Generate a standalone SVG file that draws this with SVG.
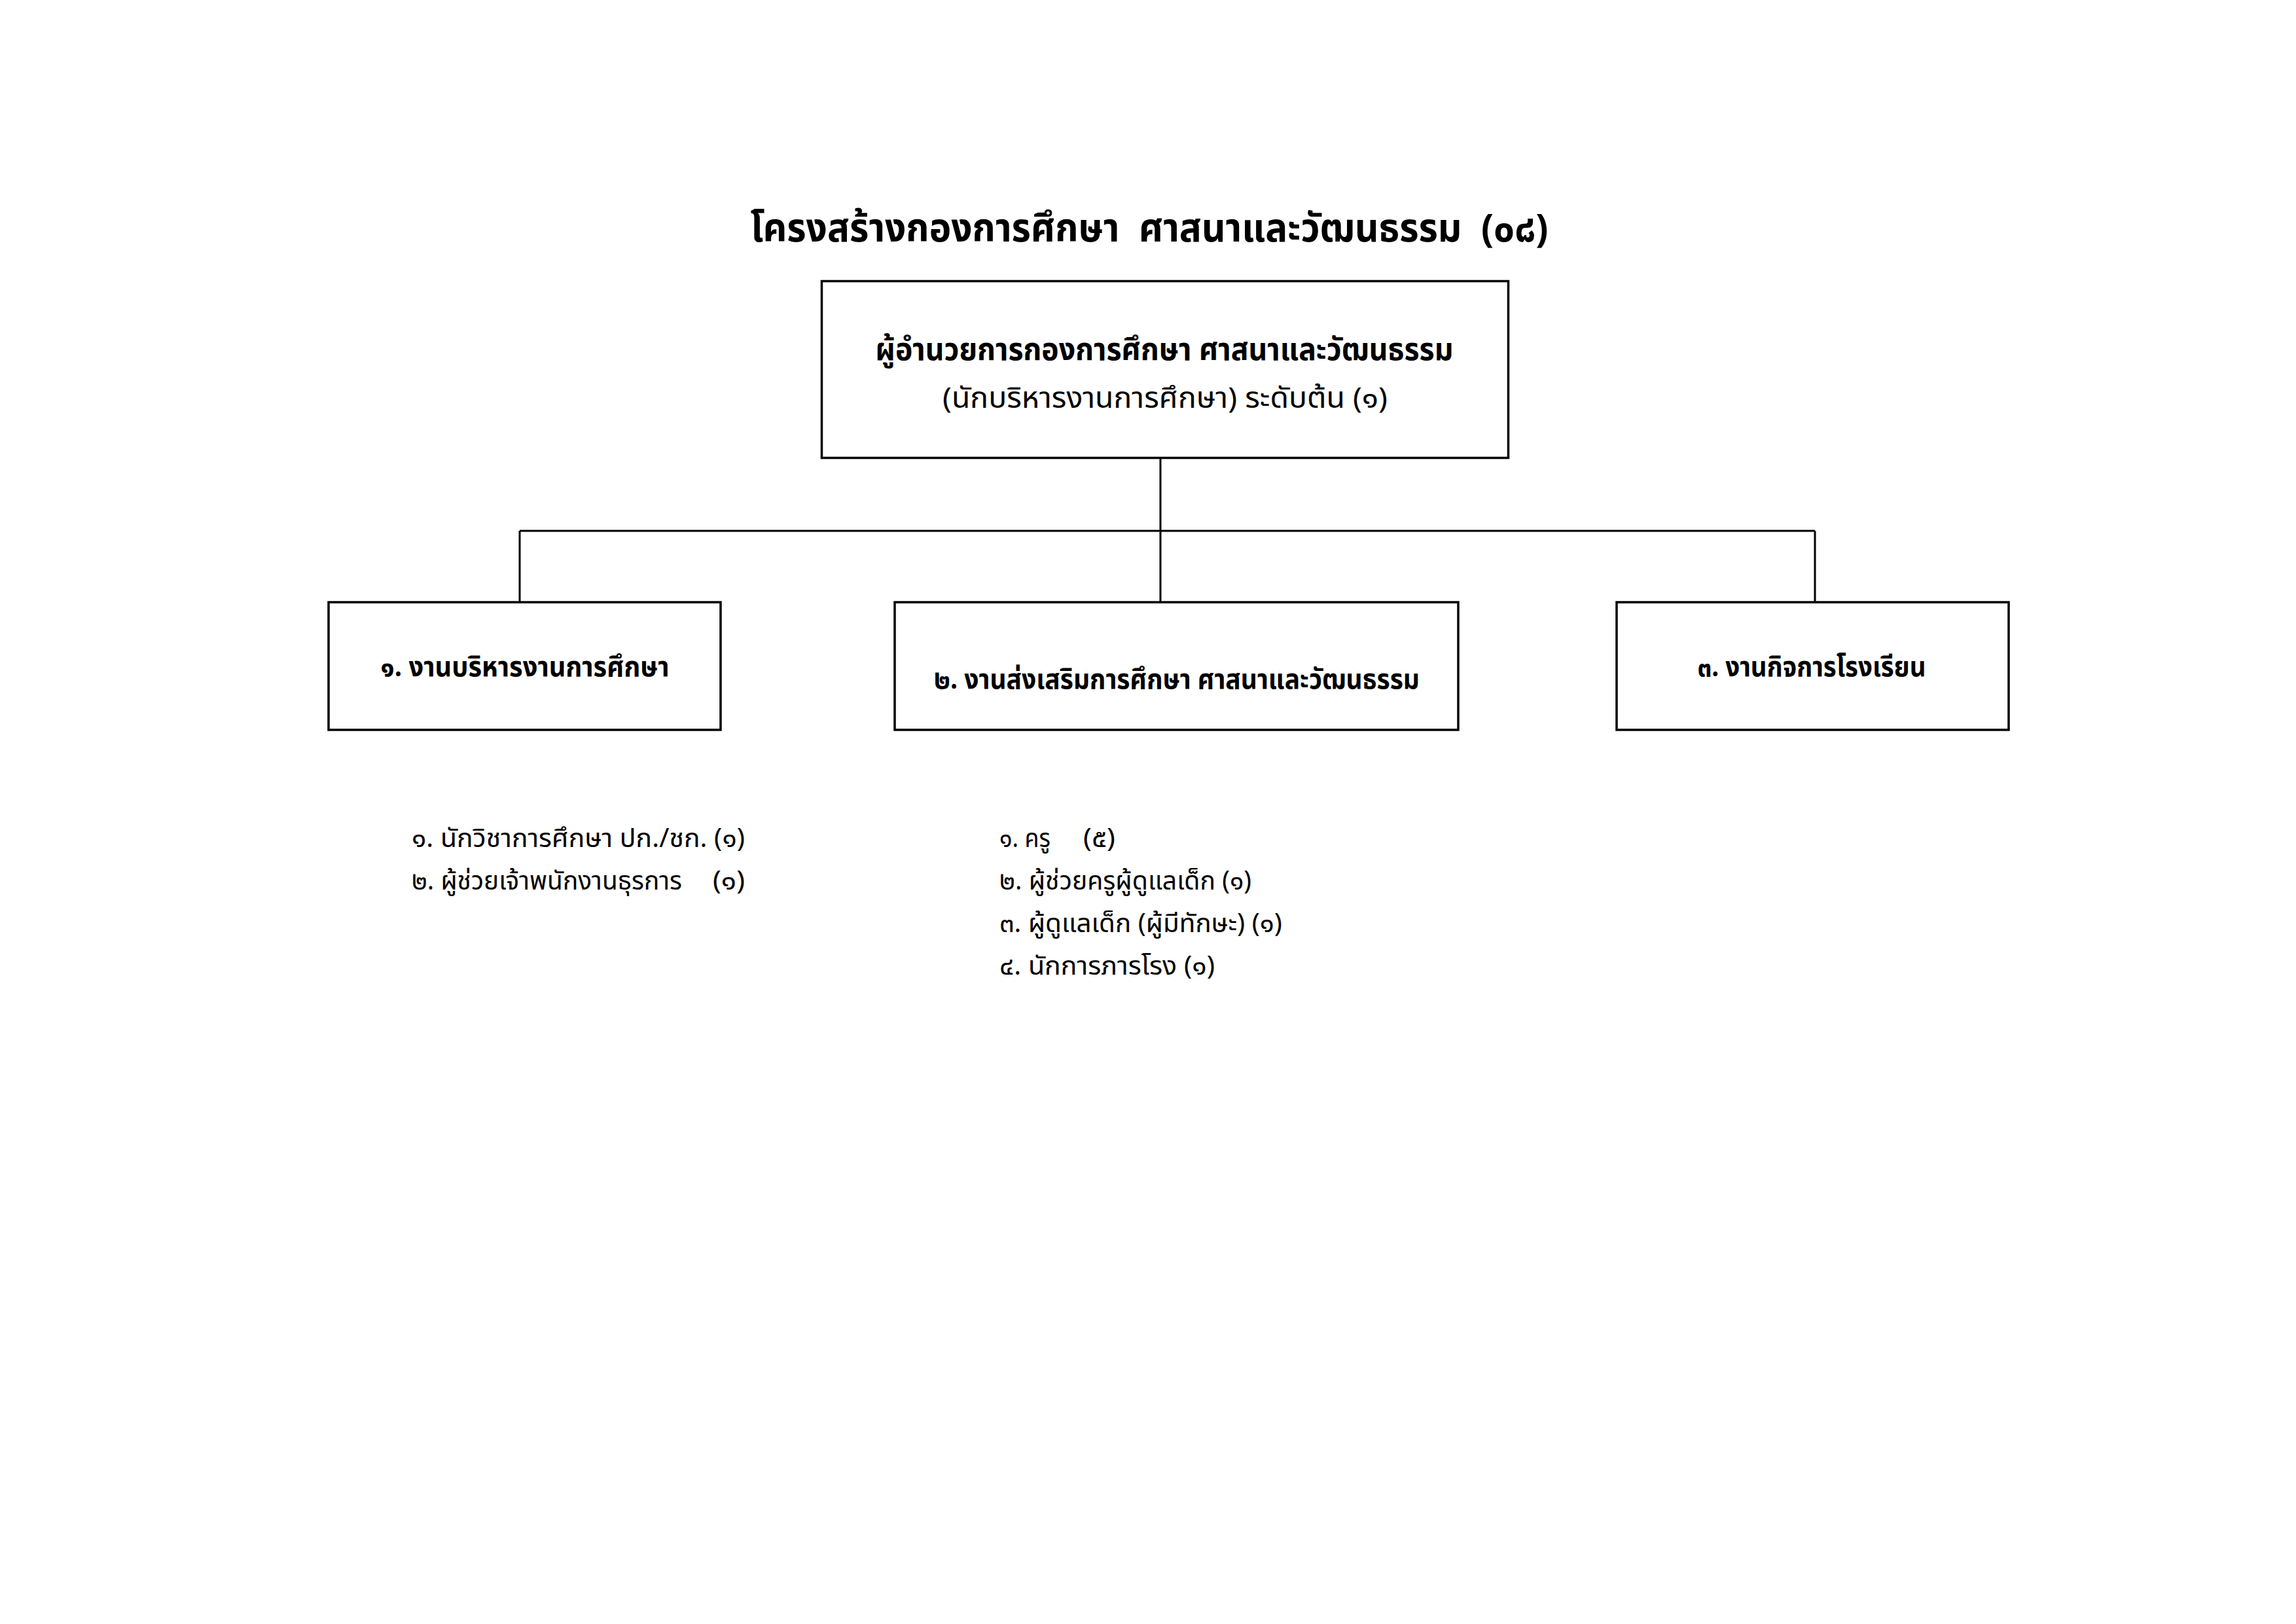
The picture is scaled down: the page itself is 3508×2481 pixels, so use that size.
<svg xmlns="http://www.w3.org/2000/svg" width="3508" height="2481" viewBox="0 0 3508 2481">
<style>
  .bg { fill: #ffffff; }
  .box { fill: #ffffff; stroke: #000000; stroke-width: 3.5; }
  .conn { fill: none; stroke: #000000; stroke-width: 3; }
  text { font-family: "Noto Sans Thai", "Noto Sans Thai UI", "Loma", "Garuda", "Noto Sans", "DejaVu Sans", sans-serif; fill: #000000; }
  .title { font-size: 60px; font-weight: bold; text-anchor: middle; }
  .head { font-size: 48px; font-weight: bold; text-anchor: middle; }
  .sub { font-size: 44px; text-anchor: middle; }
  .unit { font-size: 43px; font-weight: bold; text-anchor: middle; }
  .item { font-size: 40px; }
</style>
<rect class="bg" x="0" y="0" width="3508" height="2481"/>
<text id="title" class="title" x="1756" y="369" textLength="1219" lengthAdjust="spacingAndGlyphs" xml:space="preserve">โครงสร้างกองการศึกษา  ศาสนาและวัฒนธรรม  (๐๘)</text>
<g id="connectors">
  <line class="conn" x1="1773" y1="701" x2="1773" y2="919"/>
  <line class="conn" x1="794" y1="811" x2="2773" y2="811"/>
  <line class="conn" x1="794" y1="811" x2="794" y2="919"/>
  <line class="conn" x1="2773" y1="811" x2="2773" y2="919"/>
</g>
<g id="director">
  <rect class="box" x="1255.5" y="429.5" width="1049" height="270"/>
  <text class="head" x="1779" y="550" textLength="883" lengthAdjust="spacingAndGlyphs">ผู้อำนวยการกองการศึกษา ศาสนาและวัฒนธรรม</text>
  <text class="sub" x="1780" y="623" textLength="680" lengthAdjust="spacingAndGlyphs">(นักบริหารงานการศึกษา) ระดับต้น (๑)</text>
</g>
<g id="unit1">
  <rect class="box" x="502" y="920" width="599" height="195"/>
  <text class="unit" x="802" y="1033" textLength="441" lengthAdjust="spacingAndGlyphs">๑. งานบริหารงานการศึกษา</text>
</g>
<g id="unit2">
  <rect class="box" x="1367" y="920" width="861" height="195"/>
  <text class="unit" x="1798" y="1052" textLength="742" lengthAdjust="spacingAndGlyphs">๒. งานส่งเสริมการศึกษา ศาสนาและวัฒนธรรม</text>
</g>
<g id="unit3">
  <rect class="box" x="2470" y="920" width="599" height="195"/>
  <text class="unit" x="2768" y="1033" textLength="349" lengthAdjust="spacingAndGlyphs">๓. งานกิจการโรงเรียน</text>
</g>
<g id="staff1">
  <text class="item" x="629" y="1294" textLength="509" lengthAdjust="spacingAndGlyphs">๑. นักวิชาการศึกษา ปก./ชก. (๑)</text>
  <text class="item" x="629" y="1359" textLength="413" lengthAdjust="spacingAndGlyphs">๒. ผู้ช่วยเจ้าพนักงานธุรการ</text>
  <text class="item" x="1089" y="1359" textLength="49" lengthAdjust="spacingAndGlyphs">(๑)</text>
</g>
<g id="staff2">
  <text class="item" x="1527" y="1294" textLength="78" lengthAdjust="spacingAndGlyphs">๑. ครู</text>
  <text class="item" x="1655" y="1294" textLength="49" lengthAdjust="spacingAndGlyphs">(๕)</text>
  <text class="item" x="1527" y="1359" textLength="385" lengthAdjust="spacingAndGlyphs">๒. ผู้ช่วยครูผู้ดูแลเด็ก (๑)</text>
  <text class="item" x="1527" y="1424" textLength="432" lengthAdjust="spacingAndGlyphs">๓. ผู้ดูแลเด็ก (ผู้มีทักษะ) (๑)</text>
  <text class="item" x="1527" y="1489" textLength="329" lengthAdjust="spacingAndGlyphs">๔. นักการภารโรง (๑)</text>
</g>
</svg>
